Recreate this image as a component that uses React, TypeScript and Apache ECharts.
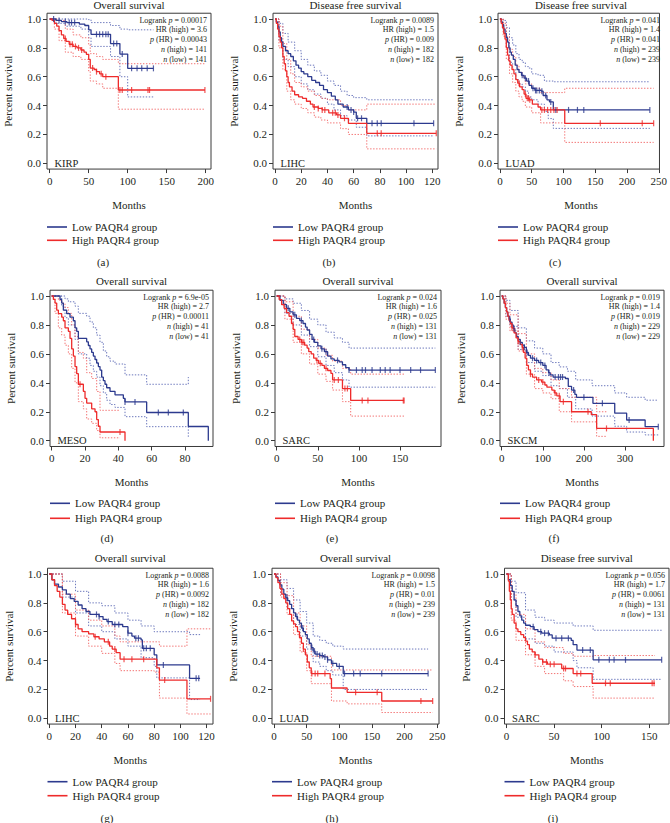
import React, { useEffect, useRef } from 'react';
import * as echarts from 'echarts';

// ---------------- DATA ----------------
const TITLES = ['Overall survival', 'Disease free survival', 'Disease free survival', 'Overall survival', 'Overall survival', 'Overall survival', 'Overall survival', 'Overall survival', 'Disease free survival'];
const CANCERS = ['KIRP', 'LIHC', 'LUAD', 'MESO', 'SARC', 'SKCM', 'LIHC', 'LUAD', 'SARC'];
const SUBLABELS = ['(a)', '(b)', '(c)', '(d)', '(e)', '(f)', '(g)', '(h)', '(i)'];
const LOGRANK_P = ['0.00017', '0.0089', '0.041', '6.9e-05', '0.024', '0.019', '0.0088', '0.0098', '0.056'];
const HR_HIGH = ['3.6', '1.5', '1.4', '2.7', '1.6', '1.4', '1.6', '1.5', '1.7'];
const P_HR = ['0.00043', '0.009', '0.041', '0.00011', '0.025', '0.019', '0.0092', '0.01', '0.0061'];
const N_HIGH = [141, 182, 239, 41, 131, 229, 182, 239, 131];
const N_LOW = [141, 182, 239, 41, 131, 229, 182, 239, 131];
const LEGEND_NAMES = ['Low PAQR4 group', 'High PAQR4 group'];
const X_LABEL = 'Months';
const Y_LABEL = 'Percent survival';
const Y_TICKS = [0, 0.2, 0.4, 0.6, 0.8, 1.0];
const X_TICKS = [
  [0, 50, 100, 150, 200],
  [0, 20, 40, 60, 80, 100, 120],
  [0, 50, 100, 150, 200, 250],
  [0, 20, 40, 60, 80],
  [0, 50, 100, 150],
  [0, 100, 200, 300],
  [0, 20, 40, 60, 80, 100, 120],
  [0, 50, 100, 150, 200, 250],
  [0, 50, 100, 150],
];

// (a) KIRP overall survival
const A_LOW = [[0,1],[8,0.99],[15,0.982],[22,0.975],[38,0.965],[45,0.955],[50,0.925],[53,0.894],[78,0.83],[90,0.757],[100,0.658],[133,0.658]];
const A_HIGH = [[0,1],[3,0.99],[6,0.97],[9,0.95],[12,0.92],[15,0.89],[18,0.865],[21,0.845],[25,0.825],[30,0.81],[35,0.8],[40,0.785],[44,0.77],[47,0.755],[50,0.72],[52,0.66],[57,0.65],[60,0.635],[64,0.62],[68,0.6],[88,0.508],[199,0.508]];
const A_LOW_UP = [[0,1],[50,0.995],[53,0.975],[78,0.955],[90,0.93],[100,0.925],[133,0.925]];
const A_LOW_LO = [[0,1],[8,0.97],[20,0.95],[40,0.93],[50,0.87],[53,0.81],[78,0.74],[90,0.6],[100,0.46],[133,0.46]];
const A_HIGH_UP = [[0,1],[10,0.99],[20,0.93],[30,0.89],[40,0.87],[50,0.82],[52,0.76],[60,0.74],[68,0.72],[88,0.69],[199,0.69]];
const A_HIGH_LO = [[0,1],[6,0.93],[12,0.85],[20,0.77],[30,0.74],[40,0.72],[50,0.64],[52,0.57],[60,0.55],[68,0.52],[88,0.375],[199,0.375]];
const A_LOW_CENS = [5, 12, 20, 25, 28, 32, 60, 64, 68, 72, 75, 82, 86, 93, 105, 112, 118, 125, 133];
const A_HIGH_CENS = [20, 26, 29, 33, 37, 41, 55, 60, 66, 72, 90, 93, 105, 126, 128, 199];

// (b) LIHC disease free survival
const B_LOW = [[0,1],[1,0.98],[2,0.95],[3,0.91],[4,0.87],[5,0.84],[6,0.81],[8,0.78],[10,0.76],[12,0.74],[14,0.71],[16,0.68],[18,0.66],[20,0.635],[22,0.62],[25,0.6],[28,0.575],[31,0.56],[34,0.54],[37,0.51],[40,0.49],[43,0.465],[46,0.44],[48,0.41],[52,0.39],[56,0.37],[60,0.355],[62,0.312],[70,0.277],[121,0.277]];
const B_HIGH = [[0,1],[1,0.97],[2,0.93],[3,0.88],[4,0.84],[5,0.8],[6,0.74],[7,0.69],[8,0.64],[9,0.6],[10,0.56],[11,0.53],[13,0.5],[15,0.475],[18,0.46],[21,0.45],[24,0.43],[27,0.41],[29,0.39],[33,0.38],[36,0.37],[41,0.35],[47,0.335],[50,0.312],[56,0.277],[70,0.208],[123,0.208]];
const B_LOW_UP = [[0,1],[3,0.97],[6,0.9],[10,0.84],[15,0.78],[20,0.72],[25,0.68],[30,0.64],[35,0.61],[40,0.57],[45,0.54],[50,0.5],[55,0.47],[60,0.455],[70,0.44],[121,0.44]];
const B_LOW_LO = [[0,1],[3,0.85],[6,0.72],[10,0.67],[15,0.6],[20,0.55],[25,0.51],[30,0.48],[35,0.45],[40,0.41],[45,0.37],[50,0.33],[55,0.3],[62,0.25],[70,0.19],[121,0.19]];
const B_HIGH_UP = [[0,1],[3,0.95],[6,0.83],[9,0.72],[12,0.62],[15,0.56],[20,0.53],[25,0.5],[30,0.47],[35,0.45],[40,0.44],[50,0.4],[56,0.37],[70,0.41],[123,0.41]];
const B_HIGH_LO = [[0,1],[3,0.8],[6,0.65],[9,0.5],[12,0.44],[15,0.41],[20,0.38],[25,0.35],[30,0.32],[35,0.3],[40,0.28],[50,0.24],[56,0.2],[70,0.1],[123,0.1]];
const B_LOW_CENS = [55, 58, 60, 63, 66, 74, 78, 81, 106, 121];
const B_HIGH_CENS = [30, 33, 36, 38, 44, 46, 48, 53, 78, 81, 123];

// (c) LUAD disease free survival
const C_LOW = [[0,1],[2,0.98],[4,0.96],[6,0.93],[8,0.9],[10,0.87],[12,0.84],[14,0.8],[16,0.77],[18,0.75],[21,0.72],[24,0.68],[27,0.65],[30,0.63],[34,0.61],[38,0.59],[42,0.57],[46,0.54],[50,0.52],[55,0.505],[65,0.5],[68,0.47],[74,0.44],[78,0.425],[84,0.37],[236,0.37]];
const C_HIGH = [[0,1],[2,0.97],[4,0.94],[6,0.9],[8,0.86],[10,0.8],[12,0.75],[14,0.71],[16,0.68],[19,0.65],[22,0.62],[25,0.58],[28,0.555],[31,0.53],[35,0.51],[38,0.48],[41,0.45],[46,0.44],[51,0.41],[60,0.39],[64,0.37],[102,0.277],[242,0.277]];
const C_LOW_UP = [[0,1],[5,0.99],[10,0.94],[15,0.87],[20,0.82],[25,0.76],[30,0.72],[35,0.7],[40,0.67],[45,0.66],[50,0.62],[60,0.61],[70,0.57],[84,0.565],[236,0.565]];
const C_LOW_LO = [[0,1],[5,0.92],[10,0.8],[15,0.7],[20,0.65],[25,0.58],[30,0.55],[35,0.53],[40,0.5],[45,0.46],[50,0.44],[60,0.41],[70,0.36],[76,0.31],[84,0.242],[236,0.242]];
const C_HIGH_UP = [[0,1],[5,0.97],[10,0.88],[15,0.79],[20,0.74],[25,0.68],[30,0.63],[35,0.6],[40,0.55],[50,0.52],[64,0.49],[102,0.52],[242,0.52]];
const C_HIGH_LO = [[0,1],[5,0.88],[10,0.72],[15,0.62],[20,0.56],[25,0.5],[30,0.46],[35,0.43],[40,0.39],[50,0.35],[64,0.28],[102,0.145],[242,0.145]];
const C_LOW_CENS = [35, 40, 45, 52, 56, 58, 62, 66, 72, 80, 88, 108, 122, 132, 236];
const C_HIGH_CENS = [30, 40, 43, 45, 47, 66, 70, 75, 80, 85, 90, 158, 224, 242];

// (d) MESO overall survival
const D_LOW = [[0,1],[5,0.976],[6,0.951],[7,0.902],[9,0.878],[11,0.854],[13,0.829],[14,0.78],[15,0.756],[16,0.707],[21,0.683],[22,0.658],[23,0.634],[24,0.61],[25,0.585],[26,0.561],[27,0.537],[28,0.512],[29,0.488],[30,0.439],[31,0.415],[32,0.39],[33,0.366],[35,0.341],[38,0.317],[43,0.293],[44,0.268],[57,0.195],[82,0.098],[94,0]];
const D_HIGH = [[0,1],[1,0.976],[2,0.951],[3,0.902],[4,0.878],[6,0.854],[7,0.829],[8,0.78],[10,0.756],[11,0.707],[12,0.634],[13,0.585],[14,0.512],[15,0.463],[16,0.39],[19,0.341],[20,0.293],[21,0.26],[24,0.22],[26,0.2],[27,0.146],[28,0.1],[29,0.06],[44,0]];
const D_LOW_UP = [[0,1],[6,1],[8,0.98],[10,0.96],[14,0.93],[16,0.88],[21,0.86],[23,0.82],[25,0.78],[27,0.73],[29,0.68],[31,0.62],[33,0.58],[35,0.55],[38,0.53],[44,0.455],[57,0.39],[82,0.44]];
const D_LOW_LO = [[0,1],[6,0.93],[8,0.85],[10,0.8],[14,0.7],[16,0.6],[21,0.57],[23,0.52],[25,0.48],[27,0.44],[29,0.38],[31,0.33],[33,0.28],[35,0.25],[38,0.23],[44,0.166],[57,0.097],[82,0.02]];
const D_HIGH_UP = [[0,1],[2,1],[4,0.97],[6,0.95],[8,0.92],[10,0.88],[12,0.8],[14,0.72],[16,0.61],[19,0.57],[21,0.47],[24,0.43],[27,0.34],[29,0.21],[41,0.21]];
const D_HIGH_LO = [[0,1],[2,0.88],[4,0.78],[6,0.73],[8,0.66],[10,0.6],[12,0.5],[14,0.4],[16,0.27],[19,0.22],[21,0.15],[24,0.12],[27,0.07],[29,0.02],[41,0.02]];
const D_LOW_CENS = [44, 50, 64, 70, 79];
const D_HIGH_CENS = [17, 41];

// (e) SARC overall survival
const E_LOW = [[0,1],[4,0.97],[8,0.94],[12,0.915],[16,0.89],[20,0.87],[24,0.846],[28,0.83],[32,0.81],[35,0.785],[37,0.765],[40,0.735],[43,0.7],[46,0.68],[50,0.655],[54,0.635],[58,0.615],[62,0.585],[66,0.565],[70,0.555],[76,0.545],[80,0.525],[84,0.505],[88,0.488],[193,0.488]];
const E_HIGH = [[0,1],[3,0.975],[6,0.94],[9,0.915],[12,0.885],[15,0.86],[18,0.81],[20,0.77],[22,0.72],[26,0.7],[30,0.68],[34,0.66],[37,0.64],[39,0.615],[42,0.6],[45,0.57],[48,0.555],[51,0.535],[55,0.52],[58,0.5],[62,0.485],[66,0.465],[68,0.42],[78,0.42],[80,0.36],[88,0.36],[90,0.278],[155,0.278]];
const E_LOW_UP = [[0,1],[10,0.98],[20,0.95],[30,0.9],[40,0.84],[50,0.8],[60,0.75],[70,0.71],[80,0.68],[88,0.64],[193,0.64]];
const E_LOW_LO = [[0,1],[10,0.88],[20,0.8],[30,0.73],[40,0.65],[50,0.58],[60,0.52],[70,0.47],[80,0.42],[88,0.37],[193,0.37]];
const E_HIGH_UP = [[0,1],[10,0.96],[20,0.86],[30,0.77],[40,0.7],[50,0.64],[60,0.59],[68,0.55],[80,0.5],[90,0.46],[155,0.46]];
const E_HIGH_LO = [[0,1],[10,0.84],[20,0.68],[30,0.6],[40,0.53],[50,0.46],[60,0.41],[68,0.35],[80,0.27],[90,0.17],[155,0.17]];
const E_LOW_CENS = [14, 22, 30, 45, 55, 60, 74, 88, 97, 104, 108, 116, 126, 132, 138, 150, 163, 175, 193];
const E_HIGH_CENS = [28, 31, 33, 49, 53, 60, 70, 75, 83, 86, 104, 111, 154, 155];

// (f) SKCM overall survival
const F_LOW = [[0,1],[3,0.98],[6,0.95],[9,0.92],[12,0.89],[15,0.86],[18,0.84],[21,0.82],[25,0.8],[28,0.775],[32,0.745],[36,0.72],[40,0.7],[45,0.68],[50,0.66],[55,0.645],[60,0.61],[65,0.59],[70,0.57],[80,0.555],[90,0.54],[100,0.52],[108,0.49],[114,0.47],[118,0.455],[125,0.44],[155,0.43],[162,0.375],[170,0.35],[178,0.32],[182,0.3],[222,0.258],[275,0.19],[304,0.143],[349,0.097],[381,0.097]];
const F_HIGH = [[0,1],[3,0.98],[6,0.95],[9,0.92],[12,0.89],[15,0.86],[18,0.83],[21,0.81],[25,0.78],[30,0.745],[35,0.71],[40,0.685],[45,0.665],[50,0.645],[53,0.61],[57,0.57],[61,0.52],[65,0.49],[70,0.46],[75,0.44],[85,0.42],[97,0.405],[105,0.385],[110,0.37],[122,0.35],[128,0.33],[134,0.31],[142,0.27],[170,0.2],[218,0.18],[231,0.085],[369,0]];
const F_LOW_UP = [[0,1],[10,0.97],[20,0.9],[40,0.78],[60,0.69],[80,0.64],[100,0.6],[120,0.54],[140,0.51],[160,0.48],[180,0.42],[220,0.38],[275,0.33],[304,0.3],[349,0.28],[381,0.28]];
const F_LOW_LO = [[0,1],[10,0.86],[20,0.79],[40,0.63],[60,0.54],[80,0.48],[100,0.45],[120,0.38],[140,0.36],[160,0.3],[180,0.22],[220,0.17],[275,0.1],[304,0.06],[349,0.04],[381,0.04]];
const F_HIGH_UP = [[0,1],[10,0.95],[20,0.87],[40,0.74],[60,0.6],[80,0.5],[100,0.47],[120,0.42],[140,0.36],[170,0.3],[231,0.2],[255,0.2]];
const F_HIGH_LO = [[0,1],[10,0.84],[20,0.76],[40,0.62],[60,0.46],[80,0.36],[100,0.33],[120,0.29],[140,0.2],[170,0.13],[231,0.03],[255,0.03]];
const F_LOW_CENS = [20, 30, 45, 55, 62, 75, 85, 95, 105, 115, 130, 138, 143, 148, 175, 200, 245, 310, 381];
const F_HIGH_CENS = [25, 40, 50, 70, 90, 100, 130, 140, 150, 210, 255];

// (g) LIHC overall survival
const G_LOW = [[0,1],[2,0.96],[4,0.93],[7,0.91],[10,0.89],[13,0.86],[16,0.83],[19,0.81],[22,0.785],[25,0.76],[28,0.74],[31,0.72],[38,0.705],[41,0.685],[44,0.67],[48,0.65],[56,0.635],[60,0.59],[63,0.57],[65,0.555],[70,0.543],[71,0.485],[80,0.44],[82,0.37],[107,0.277],[115,0.277]];
const G_HIGH = [[0,1],[2,0.96],[4,0.92],[6,0.88],[8,0.84],[10,0.79],[12,0.75],[14,0.72],[17,0.69],[20,0.65],[22,0.62],[25,0.6],[30,0.585],[34,0.565],[38,0.55],[42,0.53],[46,0.5],[48,0.48],[51,0.455],[54,0.41],[80,0.41],[82,0.35],[84,0.265],[105,0.135],[123,0.135]];
const G_LOW_UP = [[0,1],[10,0.95],[20,0.88],[30,0.8],[40,0.78],[50,0.73],[60,0.68],[70,0.64],[80,0.6],[107,0.58],[115,0.58]];
const G_LOW_LO = [[0,1],[10,0.84],[20,0.73],[30,0.64],[40,0.6],[50,0.55],[60,0.5],[70,0.42],[80,0.36],[82,0.28],[107,0.13],[115,0.13]];
const G_HIGH_UP = [[0,1],[10,0.86],[20,0.75],[30,0.68],[40,0.64],[50,0.57],[54,0.53],[80,0.53],[84,0.5],[105,0.62],[123,0.62]];
const G_HIGH_LO = [[0,1],[10,0.73],[20,0.57],[30,0.5],[40,0.45],[50,0.38],[54,0.33],[80,0.32],[84,0.14],[105,0.03],[123,0.03]];
const G_LOW_CENS = [36, 38, 45, 50, 53, 60, 66, 68, 72, 74, 77, 87, 112, 114];
const G_HIGH_CENS = [20, 35, 45, 50, 57, 63, 72, 88, 123];

// (h) LUAD overall survival
const H_LOW = [[0,1],[3,0.98],[6,0.955],[9,0.925],[12,0.895],[15,0.86],[18,0.835],[21,0.815],[24,0.79],[27,0.76],[30,0.73],[33,0.705],[36,0.68],[39,0.66],[42,0.625],[45,0.6],[48,0.58],[51,0.55],[54,0.52],[57,0.49],[60,0.465],[63,0.445],[70,0.435],[76,0.425],[82,0.405],[88,0.38],[96,0.36],[106,0.31],[236,0.31]];
const H_HIGH = [[0,1],[3,0.975],[6,0.94],[9,0.9],[12,0.86],[15,0.83],[18,0.8],[21,0.76],[24,0.72],[27,0.675],[30,0.655],[33,0.635],[36,0.6],[39,0.56],[42,0.52],[45,0.48],[48,0.44],[51,0.39],[54,0.35],[57,0.31],[86,0.275],[88,0.21],[112,0.18],[165,0.12],[243,0.12]];
const H_LOW_UP = [[0,1],[10,0.96],[20,0.9],[30,0.82],[40,0.74],[50,0.66],[60,0.57],[70,0.54],[80,0.52],[90,0.5],[106,0.48],[236,0.48]];
const H_LOW_LO = [[0,1],[10,0.86],[20,0.76],[30,0.65],[40,0.57],[50,0.48],[60,0.39],[70,0.36],[80,0.33],[90,0.3],[106,0.2],[236,0.2]];
const H_HIGH_UP = [[0,1],[10,0.94],[20,0.85],[30,0.73],[40,0.64],[50,0.51],[57,0.43],[88,0.335],[243,0.335]];
const H_HIGH_LO = [[0,1],[10,0.84],[20,0.72],[30,0.58],[40,0.46],[50,0.33],[57,0.24],[88,0.12],[112,0.1],[165,0.04],[243,0.04]];
const H_LOW_CENS = [20, 35, 44, 58, 62, 66, 70, 74, 78, 82, 90, 100, 108, 122, 132, 165, 236];
const H_HIGH_CENS = [45, 58, 63, 67, 78, 125, 158, 225, 243];

// (i) SARC disease free survival
const I_LOW = [[0,1],[2,0.96],[4,0.92],[6,0.88],[8,0.82],[10,0.78],[12,0.74],[14,0.71],[16,0.68],[18,0.66],[20,0.645],[25,0.635],[29,0.615],[33,0.6],[37,0.59],[45,0.578],[48,0.555],[68,0.54],[70,0.51],[74,0.473],[91,0.405],[163,0.405]];
const I_HIGH = [[0,1],[2,0.95],[3,0.88],[4,0.82],[5,0.76],[6,0.72],[8,0.66],[10,0.62],[12,0.6],[15,0.58],[18,0.56],[20,0.535],[22,0.51],[24,0.48],[27,0.46],[30,0.44],[34,0.41],[38,0.39],[43,0.375],[58,0.345],[70,0.31],[90,0.243],[156,0.243]];
const I_LOW_UP = [[0,1],[5,0.95],[10,0.87],[20,0.75],[30,0.7],[40,0.68],[50,0.66],[70,0.64],[91,0.61],[163,0.61]];
const I_LOW_LO = [[0,1],[5,0.82],[10,0.7],[20,0.55],[30,0.52],[40,0.5],[50,0.46],[70,0.4],[74,0.35],[91,0.27],[163,0.27]];
const I_HIGH_UP = [[0,1],[5,0.86],[10,0.72],[20,0.62],[30,0.53],[40,0.49],[60,0.45],[70,0.43],[91,0.435],[156,0.435]];
const I_HIGH_LO = [[0,1],[5,0.68],[10,0.54],[20,0.44],[30,0.36],[40,0.31],[60,0.26],[70,0.22],[91,0.14],[156,0.14]];
const I_LOW_CENS = [28, 36, 40, 44, 52, 58, 65, 80, 88, 97, 108, 113, 125, 163];
const I_HIGH_CENS = [30, 38, 42, 46, 50, 60, 62, 74, 78, 104, 109, 153, 155];

const CURVES = [
  { low: A_LOW, high: A_HIGH, lowUp: A_LOW_UP, lowLo: A_LOW_LO, highUp: A_HIGH_UP, highLo: A_HIGH_LO, lowC: A_LOW_CENS, highC: A_HIGH_CENS },
  { low: B_LOW, high: B_HIGH, lowUp: B_LOW_UP, lowLo: B_LOW_LO, highUp: B_HIGH_UP, highLo: B_HIGH_LO, lowC: B_LOW_CENS, highC: B_HIGH_CENS },
  { low: C_LOW, high: C_HIGH, lowUp: C_LOW_UP, lowLo: C_LOW_LO, highUp: C_HIGH_UP, highLo: C_HIGH_LO, lowC: C_LOW_CENS, highC: C_HIGH_CENS },
  { low: D_LOW, high: D_HIGH, lowUp: D_LOW_UP, lowLo: D_LOW_LO, highUp: D_HIGH_UP, highLo: D_HIGH_LO, lowC: D_LOW_CENS, highC: D_HIGH_CENS },
  { low: E_LOW, high: E_HIGH, lowUp: E_LOW_UP, lowLo: E_LOW_LO, highUp: E_HIGH_UP, highLo: E_HIGH_LO, lowC: E_LOW_CENS, highC: E_HIGH_CENS },
  { low: F_LOW, high: F_HIGH, lowUp: F_LOW_UP, lowLo: F_LOW_LO, highUp: F_HIGH_UP, highLo: F_HIGH_LO, lowC: F_LOW_CENS, highC: F_HIGH_CENS },
  { low: G_LOW, high: G_HIGH, lowUp: G_LOW_UP, lowLo: G_LOW_LO, highUp: G_HIGH_UP, highLo: G_HIGH_LO, lowC: G_LOW_CENS, highC: G_HIGH_CENS },
  { low: H_LOW, high: H_HIGH, lowUp: H_LOW_UP, lowLo: H_LOW_LO, highUp: H_HIGH_UP, highLo: H_HIGH_LO, lowC: H_LOW_CENS, highC: H_HIGH_CENS },
  { low: I_LOW, high: I_HIGH, lowUp: I_LOW_UP, lowLo: I_LOW_LO, highUp: I_HIGH_UP, highLo: I_HIGH_LO, lowC: I_LOW_CENS, highC: I_HIGH_CENS },
];

// ---------------- LAYOUT / STYLE ----------------
// box left/right (px), pixel x of month 0, px per month
const COLS = [
  { L: 47, R: 211, x0: 49.7, s: 0.78 },
  { L: 273, R: 438, x0: 275, s: 1.311 },
  { L: 498, R: 664, x0: 500, s: 0.653 },
  { L: 50, R: 213, x0: 51.7, s: 1.666 },
  { L: 275, R: 441, x0: 276.7, s: 0.822 },
  { L: 500, R: 664, x0: 501.7, s: 0.411 },
  { L: 47.5, R: 213, x0: 49.3, s: 1.311 },
  { L: 272, R: 439, x0: 274, s: 0.653 },
  { L: 504.5, R: 669, x0: 506.5, s: 0.952 },
];
const ROWS = [
  { y1: 19, y0: 163.3, title: 5, months: 205, leg: 227, legGap: 13.3, sub: 262 },
  { y1: 296, y0: 440.7, title: 281, months: 482, leg: 503.3, legGap: 15, sub: 538 },
  { y1: 574, y0: 718.3, title: 558, months: 760, leg: 781.7, legGap: 14, sub: 818 },
];
const SUB_X = [103, 329, 555, 107, 332, 554, 107, 332, 553];

const FONT = '"Liberation Serif", "Times New Roman", Times, serif';
const TXT = '#231f20';
const BLUE = '#2c3a8e';
const RED = '#ee2b2b';
const BLUE_CI = '#5a68b4';
const RED_CI = '#f26464';

function survAt(c: number[][], t: number): number {
  let v = c[0][1];
  for (const p of c) {
    if (p[0] <= t) v = p[1];
    else break;
  }
  return v;
}

function buildOption() {
  const grid: any[] = [];
  const xAxis: any[] = [];
  const yAxis: any[] = [];
  const series: any[] = [];
  const legend: any[] = [];
  const graphic: any[] = [];

  for (let i = 0; i < 9; i++) {
    const col = COLS[i];
    const row = ROWS[Math.floor(i / 3)];
    const sy = row.y0 - row.y1;
    const xmin = -(col.x0 - col.L) / col.s;
    const xmax = (col.R - col.x0) / col.s;
    const top = row.y1 - 0.04 * sy;
    const height = 1.08 * sy;
    const cx = (col.L + col.R) / 2;

    grid.push({
      left: col.L, top, width: col.R - col.L, height,
      show: true, borderColor: '#3a3a3a', borderWidth: 1, backgroundColor: 'transparent',
    });
    xAxis.push({
      type: 'value', gridIndex: i, min: xmin, max: xmax,
      axisLine: { show: false, onZero: false },
      splitLine: { show: false },
      axisTick: { show: true, length: 4, customValues: X_TICKS[i], lineStyle: { color: '#3a3a3a' } },
      axisLabel: { customValues: X_TICKS[i], fontFamily: FONT, fontSize: 11, color: TXT, margin: 6 },
    });
    yAxis.push({
      type: 'value', gridIndex: i, min: -0.04, max: 1.04,
      axisLine: { show: false, onZero: false },
      splitLine: { show: false },
      axisTick: { show: true, length: 4, customValues: Y_TICKS, lineStyle: { color: '#3a3a3a' } },
      axisLabel: {
        customValues: Y_TICKS, fontFamily: FONT, fontSize: 11, color: TXT, margin: 6,
        formatter: (v: number) => v.toFixed(1),
      },
    });

    const c = CURVES[i];
    const ci = (data: number[][], color: string, name: string) => ({
      type: 'line', name, xAxisIndex: i, yAxisIndex: i, data, step: 'end',
      symbol: 'none', silent: true, z: 2,
      lineStyle: { color, width: 0.9, type: [1.4, 1.6] },
    });
    series.push(ci(c.lowUp, BLUE_CI, `ci-low-up-${i}`));
    series.push(ci(c.lowLo, BLUE_CI, `ci-low-lo-${i}`));
    series.push(ci(c.highUp, RED_CI, `ci-high-up-${i}`));
    series.push(ci(c.highLo, RED_CI, `ci-high-lo-${i}`));
    const main = (data: number[][], color: string, name: string) => ({
      type: 'line', name, xAxisIndex: i, yAxisIndex: i, data, step: 'end',
      symbol: 'none', silent: true, z: 3, color,
      lineStyle: { color, width: 1.3 },
      itemStyle: { color },
    });
    series.push(main(c.low, BLUE, LEGEND_NAMES[0]));
    series.push(main(c.high, RED, LEGEND_NAMES[1]));
    const cens = (times: number[], curve: number[][], color: string, name: string) => ({
      type: 'scatter', name, xAxisIndex: i, yAxisIndex: i,
      data: times.map((t) => [t, survAt(curve, t)]),
      symbol: 'rect', symbolSize: [1.2, 6], silent: true, z: 4,
      itemStyle: { color },
    });
    series.push(cens(c.lowC, c.low, BLUE, `cens-low-${i}`));
    series.push(cens(c.highC, c.high, RED, `cens-high-${i}`));

    legend.push({
      left: col.L, top: row.leg - 6.5, orient: 'vertical', padding: 0,
      itemWidth: 20, itemHeight: 1.6, icon: 'rect', itemGap: row.legGap - 13,
      selectedMode: false,
      textStyle: { fontFamily: FONT, fontSize: 11, color: TXT, lineHeight: 13 },
      data: LEGEND_NAMES,
    });

    // title
    graphic.push({
      type: 'text', x: cx, y: row.title, silent: true,
      style: { text: TITLES[i], fill: TXT, fontFamily: FONT, fontSize: 11, align: 'center', verticalAlign: 'middle' },
    });
    // months
    graphic.push({
      type: 'text', x: cx, y: row.months, silent: true,
      style: { text: X_LABEL, fill: TXT, fontFamily: FONT, fontSize: 11, align: 'center', verticalAlign: 'middle' },
    });
    // y label
    graphic.push({
      type: 'text', x: col.L - 39, y: row.y1 + sy / 2, rotation: Math.PI / 2, silent: true,
      style: { text: Y_LABEL, fill: TXT, fontFamily: FONT, fontSize: 11, align: 'center', verticalAlign: 'middle' },
    });
    // cancer label
    graphic.push({
      type: 'text', x: col.L + 7.5, y: row.y0, silent: true,
      style: { text: CANCERS[i], fill: TXT, fontFamily: FONT, fontSize: 10.5, align: 'left', verticalAlign: 'middle' },
    });
    // sub label
    graphic.push({
      type: 'text', x: SUB_X[i], y: row.sub, silent: true,
      style: { text: SUBLABELS[i], fill: TXT, fontFamily: FONT, fontSize: 11, align: 'center', verticalAlign: 'middle' },
    });
    // stats
    const lines = [
      `Logrank {i|p} = ${LOGRANK_P[i]}`,
      `HR (high) = ${HR_HIGH[i]}`,
      `{i|p} (HR) = ${P_HR[i]}`,
      `{i|n} (high) = ${N_HIGH[i]}`,
      `{i|n} (low) = ${N_LOW[i]}`,
    ];
    lines.forEach((t, k) => {
      graphic.push({
        type: 'text', x: col.R - 4, y: row.y1 + 1 + k * 9.8, silent: true, z: 10,
        style: {
          text: t, fill: TXT, fontFamily: FONT, fontSize: 8, align: 'right', verticalAlign: 'middle',
          rich: { i: { fontStyle: 'italic', fontFamily: FONT, fontSize: 8, fill: TXT } },
        },
      });
    });
  }

  return { animation: false, backgroundColor: '#ffffff', grid, xAxis, yAxis, series, legend, graphic };
}

export default function App() {
  const ref = useRef<HTMLDivElement>(null);
  useEffect(() => {
    if (!ref.current) return;
    const chart = echarts.init(ref.current, undefined, { renderer: 'svg' });
    chart.setOption(buildOption() as any);
    return () => chart.dispose();
  }, []);
  return <div ref={ref} style={{ position: 'fixed', left: 0, top: 0, width: 670, height: 823, background: '#fff' }} />;
}
